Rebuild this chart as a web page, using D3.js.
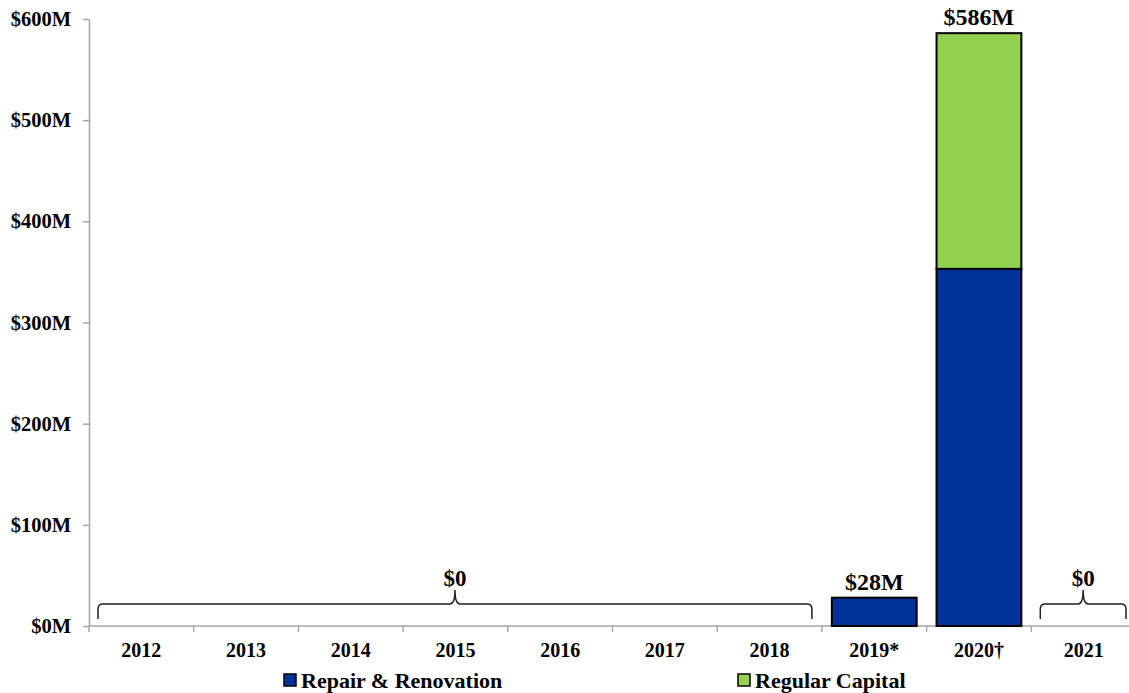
<!DOCTYPE html>
<html><head><meta charset="utf-8">
<script src="https://cdn.jsdelivr.net/npm/d3@7"></script>
<style>body{margin:0;background:#fff}svg{display:block}</style>
</head><body>
<svg id="c" width="1129" height="693"></svg>
<script>
const categories = ["2012","2013","2014","2015","2016","2017","2018","2019*","2020†","2021"];
const repairRenovation = [0,0,0,0,0,0,0,28,353,0];
const regularCapital = [0,0,0,0,0,0,0,0,233,0];
const yTicks = [0,100,200,300,400,500,600];
const barLabels = [{cat:"2019*", text:"$28M", value:28},{cat:"2020†", text:"$586M", value:586}];
const zeroGroups = [{from:"2012", to:"2018", text:"$0"},{from:"2021", to:"2021", text:"$0"}];
const seriesNames = ["Repair & Renovation","Regular Capital"];
const colors = ["#003399","#92D050"];

const svg = d3.select("#c");
const font = "'Liberation Serif','Times New Roman',serif";
const x = d3.scaleBand().domain(categories).range([89, 1136]).padding(0);
const y = d3.scaleLinear().domain([0,600]).range([626, 19]);

// y axis
const ya = svg.append("g").attr("transform","translate(89,0)")
  .call(d3.axisLeft(y).tickValues(yTicks).tickSize(6).tickSizeOuter(0).tickFormat(d=>"$"+d+"M"));
ya.select(".domain").attr("stroke","#a6a6a6").attr("stroke-width",1.5);
ya.selectAll(".tick line").attr("stroke","#a6a6a6").attr("stroke-width",1.5);
ya.selectAll(".tick text").attr("font-family",font).attr("font-weight","bold").attr("font-size",20.5).attr("fill","#000").attr("x",-18);

// x axis
const xa = svg.append("g");
xa.append("line").attr("x1",89).attr("x2",1136).attr("y1",y(0)).attr("y2",y(0)).attr("stroke","#a6a6a6").attr("stroke-width",1.5);
const bounds = categories.map(c=>x(c)).concat([x(categories[categories.length-1])+x.bandwidth()]);
xa.selectAll("line.t").data(bounds).join("line").attr("class","t")
  .attr("x1",d=>d).attr("x2",d=>d).attr("y1",y(0)).attr("y2",y(0)+6).attr("stroke","#a6a6a6").attr("stroke-width",1.5);
xa.selectAll("text").data(categories).join("text")
  .attr("x",d=>x(d)+x.bandwidth()/2).attr("y",657).attr("text-anchor","middle")
  .attr("font-family",font).attr("font-weight","bold").attr("font-size",20).text(d=>d);

// stacked bars
const rows = categories.map((c,i)=>({cat:c, repair:repairRenovation[i], regular:regularCapital[i]}));
const stack = d3.stack().keys(["repair","regular"])(rows);
const bw = x.bandwidth()*0.81;
stack.forEach((layer,li)=>{
  svg.append("g").selectAll("rect").data(layer.filter(d=>d[1]-d[0]>0)).join("rect")
    .attr("x",d=>x(d.data.cat)+(x.bandwidth()-bw)/2).attr("width",bw)
    .attr("y",d=>y(d[1])).attr("height",d=>y(d[0])-y(d[1]))
    .attr("fill",colors[li]).attr("stroke","#000").attr("stroke-width",2);
});

// bar labels
svg.append("g").selectAll("text").data(barLabels).join("text")
  .attr("x",d=>x(d.cat)+x.bandwidth()/2).attr("y",d=>y(d.value)-8).attr("text-anchor","middle")
  .attr("font-family",font).attr("font-weight","bold").attr("font-size",24).text(d=>d.text);

// braces
zeroGroups.forEach(g=>{
  const x0 = x(g.from)+9, x1 = x(g.to)+x.bandwidth()-10, xm=(x0+x1)/2;
  const yb = 604, ye = 619, yp = 590, r = 5;
  const p = `M${x0},${ye} L${x0},${yb+r} Q${x0},${yb} ${x0+r},${yb} L${xm-5},${yb} Q${xm},${yb} ${xm},${yp} Q${xm},${yb} ${xm+5},${yb} L${x1-r},${yb} Q${x1},${yb} ${x1},${yb+r} L${x1},${ye}`;
  svg.append("path").attr("d",p).attr("fill","none").attr("stroke","#222").attr("stroke-width",1.5);
  svg.append("text").attr("x",xm).attr("y",586).attr("text-anchor","middle")
    .attr("font-family",font).attr("font-weight","bold").attr("font-size",23).text(g.text);
});

// legend
const legX = [284, 738];
seriesNames.forEach((n,i)=>{
  svg.append("rect").attr("x",legX[i]).attr("y",674).attr("width",12).attr("height",12)
    .attr("fill",colors[i]).attr("stroke","#000").attr("stroke-width",1.5);
  svg.append("text").attr("x",legX[i]+17).attr("y",687.5).attr("font-family",font)
    .attr("font-weight","bold").attr("font-size",22).text(n);
});
</script>
</body></html>
